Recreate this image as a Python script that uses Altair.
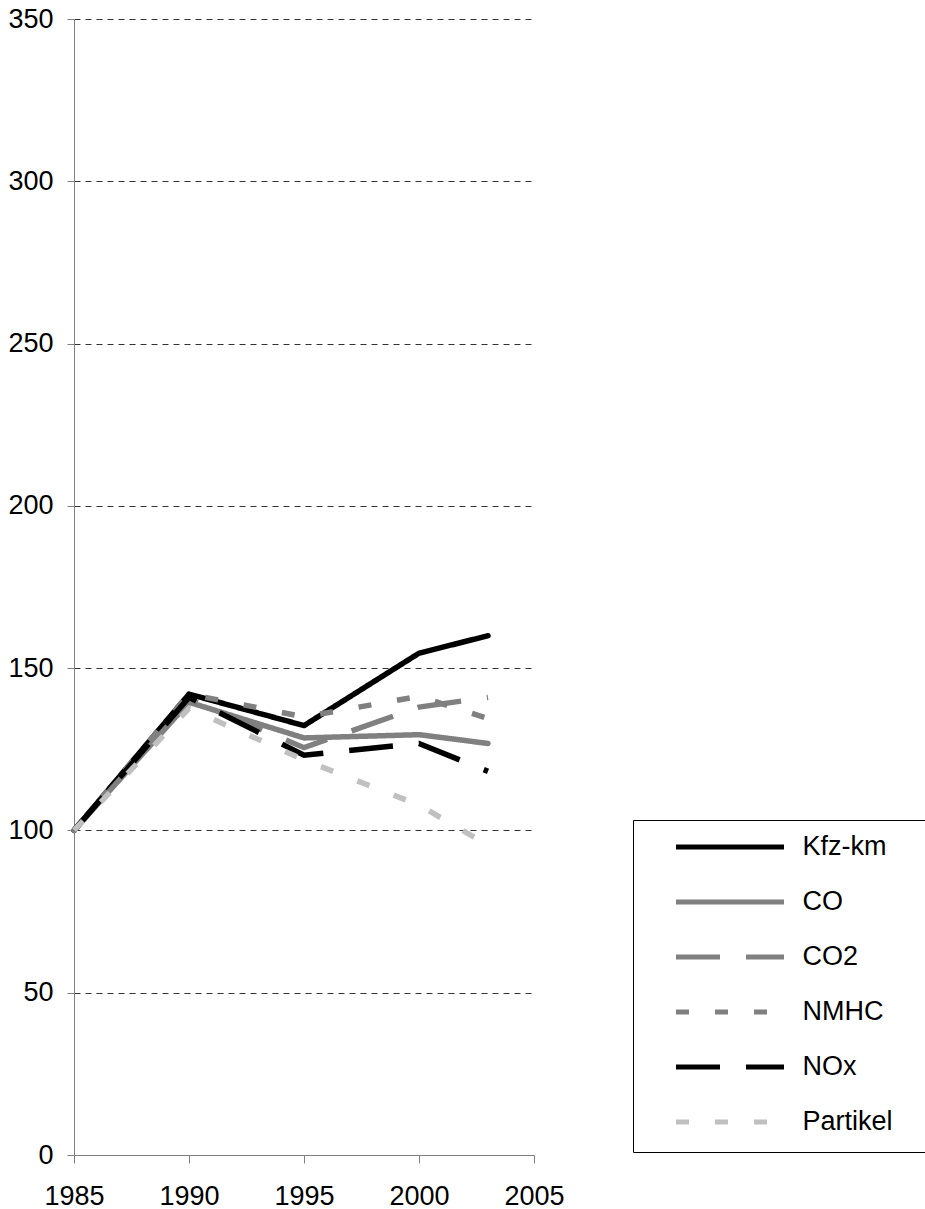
import altair as alt
import pandas as pd

# ---- data ----
years = [1985, 1990, 1995, 2000, 2003]
series_names = ["Kfz-km", "CO", "CO2", "NMHC", "NOx", "Partikel"]
kfz_km = [100, 142, 132.3, 154.6, 160]
co = [100, 139.5, 128.5, 129.5, 126.8]
co2 = [100, 140.5, 125.5, 138, 141]
nmhc = [100, 142, 135, 141.3, 134.5]
nox = [100, 141, 123.2, 126.8, 118.2]
partikel = [100, 137.6, 121.7, 107.8, 95.5]

x_ticks = [1985, 1990, 1995, 2000, 2005]
y_ticks = [0, 50, 100, 150, 200, 250, 300, 350]

series_colors = ["#000000", "#808080", "#808080", "#808080", "#000000", "#c0c0c0"]
series_dashes = [[1, 0], [1, 0], [44, 26], [13, 26], [44, 26], [13, 26]]
solid_series = ["Kfz-km", "CO"]

values_by_series = [kfz_km, co, co2, nmhc, nox, partikel]
rows = []
for name, vals in zip(series_names, values_by_series):
    for yr, v in zip(years, vals):
        rows.append({"series": name, "year": yr, "value": v})
df = pd.DataFrame(rows)

FONT = "Liberation Sans"

legend = alt.Legend(
    title="\u2014",
    titleOrient="right",
    titleColor="#ffffff",
    titleFontSize=27,
    titlePadding=2,
    orient="none",
    legendX=559,
    legendY=801,
    symbolType="stroke",
    symbolSize=11664,
    symbolStrokeWidth=5,
    clipHeight=20,
    rowPadding=28,
    padding=17,
    symbolOffset=23.5,
    labelOffset=16,
    labelFontSize=27,
    labelFont=FONT,
    labelColor="#000000",
    labelLimit=500,
    strokeColor="#000000",
    fillColor="#ffffff",
)

x_enc = alt.X(
    "year:Q",
    scale=alt.Scale(domain=[1985, 2005], nice=False, zero=False),
    axis=alt.Axis(
        values=x_ticks, format="d", title=None, grid=False,
        domainColor="#808080", tickColor="#808080", tickSize=8,
        labelFontSize=27, labelFont=FONT, labelColor="#000000",
        labelPadding=20, labelFlush=False,
    ),
)
y_enc = alt.Y(
    "value:Q",
    scale=alt.Scale(domain=[0, 350], nice=False),
    axis=alt.Axis(
        values=y_ticks, title=None, grid=True,
        gridDash=[6, 5], gridColor="#333333", gridWidth=1,
        gridOpacity={"condition": {"test": "datum.value === 0", "value": 0}, "value": 1},
        domainColor="#808080", tickColor="#808080", tickSize=7,
        labelFontSize=27, labelFont=FONT, labelColor="#000000",
        labelPadding=14,
    ),
)
color_enc = alt.Color(
    "series:N",
    scale=alt.Scale(domain=series_names, range=series_colors),
    legend=legend,
)
dash_enc = alt.StrokeDash(
    "series:N",
    scale=alt.Scale(domain=series_names, range=series_dashes),
    legend=legend,
)

base = alt.Chart(df).encode(
    x=x_enc, y=y_enc, color=color_enc, strokeDash=dash_enc,
    order=alt.Order("year:Q"),
)

solid = base.transform_filter(
    alt.FieldOneOfPredicate(field="series", oneOf=solid_series)
).mark_line(strokeWidth=5.5, strokeCap="round", strokeJoin="round")

dashed = base.transform_filter(
    {"not": alt.FieldOneOfPredicate(field="series", oneOf=solid_series)}
).mark_line(strokeWidth=5.5, strokeCap="butt", strokeJoin="miter")

chart = (
    alt.layer(solid, dashed)
    .properties(
        width=460,
        height=1136,
        autosize="none",
        padding={"left": 74, "top": 19, "right": 391, "bottom": 54},
        background="#ffffff",
    )
    .configure(font=FONT)
    .configure_view(stroke="transparent", strokeWidth=0)
)

chart.save("out.html", embed_options={"renderer": "svg", "actions": False})
